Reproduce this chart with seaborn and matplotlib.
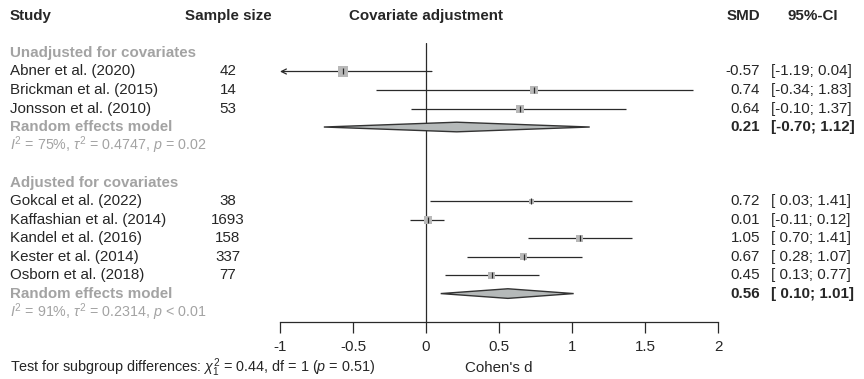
import matplotlib
matplotlib.use("Agg")
import matplotlib.pyplot as plt
import matplotlib.transforms as mtransforms
from matplotlib.patches import Polygon
import seaborn as sns
import pandas as pd

# ---------------- data ----------------
studies_unadj = ["Abner et al. (2020)", "Brickman et al. (2015)", "Jonsson et al. (2010)"]
n_unadj = [42, 14, 53]
smd_unadj = [-0.57, 0.74, 0.64]
lo_unadj = [-1.19, -0.34, -0.10]
hi_unadj = [0.04, 1.83, 1.37]
weight_unadj = [100, 64, 64]
re_unadj = [0.21, -0.70, 1.12]
het_unadj = r"$I^2$ = 75%, $\tau^2$ = 0.4747, $p$ = 0.02"

studies_adj = ["Gokcal et al. (2022)", "Kaffashian et al. (2014)", "Kandel et al. (2016)",
               "Kester et al. (2014)", "Osborn et al. (2018)"]
n_adj = [38, 1693, 158, 337, 77]
smd_adj = [0.72, 0.01, 1.05, 0.67, 0.45]
lo_adj = [0.03, -0.11, 0.70, 0.28, 0.13]
hi_adj = [1.41, 0.12, 1.41, 1.07, 0.77]
weight_adj = [25, 64, 49, 49, 49]
re_adj = [0.56, 0.10, 1.01]
het_adj = r"$I^2$ = 91%, $\tau^2$ = 0.2314, $p$ < 0.01"

group_labels = ["Unadjusted for covariates", "Adjusted for covariates"]
tick_values = [-1, -0.5, 0, 0.5, 1, 1.5, 2]
tick_labels = ["-1", "-0.5", "0", "0.5", "1", "1.5", "2"]
subgroup_test = r"Test for subgroup differences: $\chi^2_1$ = 0.44, df = 1 ($p$ = 0.51)"

# ---------------- style ----------------
sns.set_theme(style="white")
plt.rcParams["font.family"] = ["Liberation Sans", "DejaVu Sans"]
plt.rcParams["mathtext.fontset"] = "custom"
plt.rcParams["mathtext.rm"] = "Liberation Sans"
plt.rcParams["mathtext.it"] = "Liberation Sans:italic"
plt.rcParams["mathtext.bf"] = "Liberation Sans:bold"

FS = 10.9
GREY = "#A3A3A3"
SQ = "#B8B8B8"
DIA = "#B5B9B9"
LINE = "#2A2A2A"
W, H = 864, 379

fig = plt.figure(figsize=(W / 100, H / 100), dpi=100)
ax = fig.add_axes([280 / W, 1 - 321.7 / H, (718.3 - 280) / W, (321.7 - 43) / H])

# row layout
rows_unadj = [2, 3, 4]
rows_adj = [9, 10, 11, 12, 13]
df = pd.DataFrame({
    "study": studies_unadj + studies_adj,
    "n": n_unadj + n_adj,
    "smd": smd_unadj + smd_adj,
    "lo": lo_unadj + lo_adj,
    "hi": hi_unadj + hi_adj,
    "w": weight_unadj + weight_adj,
    "row": rows_unadj + rows_adj,
})

XMIN, XMAX = -1, 2
ax.set_xlim(XMIN, XMAX)
ax.set_ylim(15.52, 0.46)

# CI lines
for _, r in df.iterrows():
    if r.lo < XMIN:
        ax.annotate("", xy=(XMIN, r.row), xytext=(r.hi, r.row),
                    arrowprops=dict(arrowstyle="->", lw=0.9, color=LINE,
                                    shrinkA=0, shrinkB=0, mutation_scale=9))
    else:
        ax.hlines(r.row, r.lo, min(r.hi, XMAX), color=LINE, lw=0.9, zorder=2)

# squares sized by weight
sns.scatterplot(data=df, x="smd", y="row", size="w", sizes=(13, 52), marker="s",
                color=SQ, edgecolor="none", legend=False, ax=ax, zorder=3)
ax.scatter(df.smd, df.row, marker="|", s=14, color=LINE, linewidths=0.9, zorder=4)

# diamonds
for re, row in ((re_unadj, 5), (re_adj, 14)):
    est, lo, hi = re
    ax.add_patch(Polygon([(lo, row), (est, row - 0.26), (hi, row), (est, row + 0.26)],
                         closed=True, facecolor=DIA, edgecolor="#333333", lw=1.0, zorder=3))

# no-effect line
ax.axvline(0, color=LINE, lw=0.9, zorder=1)

# axis styling
for s in ("top", "left", "right"):
    ax.spines[s].set_visible(False)
ax.spines["bottom"].set_color(LINE)
ax.spines["bottom"].set_linewidth(0.9)
ax.set_yticks([])
ax.set_xticks(tick_values)
ax.set_xticklabels(tick_labels, fontsize=FS)
ax.tick_params(axis="x", direction="out", length=8, width=0.9, color=LINE, pad=5, bottom=True)
ax.set_xlabel("")
ax.set_ylabel("")
ax.patch.set_alpha(0)

# texts
tr = mtransforms.blended_transform_factory(fig.transFigure, ax.transData)

def T(px, row, s, ha="left", fs=FS, **kw):
    ax.text(px / W, row, s, transform=tr, ha=ha, va="center", fontsize=fs, clip_on=False, **kw)

hdr = -1
T(10, hdr, "Study", weight="bold")
T(228, hdr, "Sample size", ha="center", weight="bold")
ax.text(0, hdr, "Covariate adjustment", ha="center", va="center", fontsize=FS, weight="bold", clip_on=False)
T(743, hdr, "SMD", ha="center", weight="bold")
T(813, hdr, "95%-CI", ha="center", weight="bold")

for g, grow in ((group_labels[0], 1), (group_labels[1], 8)):
    T(10, grow, g, color=GREY, weight="bold")

for _, r in df.iterrows():
    T(10, r.row, r.study)
    T(228, r.row, f"{r.n}", ha="center")
    T(760, r.row, f"{r.smd:.2f}", ha="right")
    T(771, r.row, f"[{r.lo:5.2f}; {r.hi:.2f}]")

for re, row, het in ((re_unadj, 5, het_unadj), (re_adj, 14, het_adj)):
    est, lo, hi = re
    T(10, row, "Random effects model", color=GREY, weight="bold")
    T(760, row, f"{est:.2f}", ha="right", weight="bold")
    T(771, row, f"[{lo:5.2f}; {hi:.2f}]", weight="bold")
    T(10, row + 1, het, color=GREY, fs=FS - 0.6)

fig.text(10 / W, 1 - 368 / H, subgroup_test, ha="left", va="center", fontsize=FS - 0.5)
fig.text(499 / W, 1 - 368 / H, "Cohen's d", ha="center", va="center", fontsize=FS)

fig.savefig("out.png", dpi=100)
